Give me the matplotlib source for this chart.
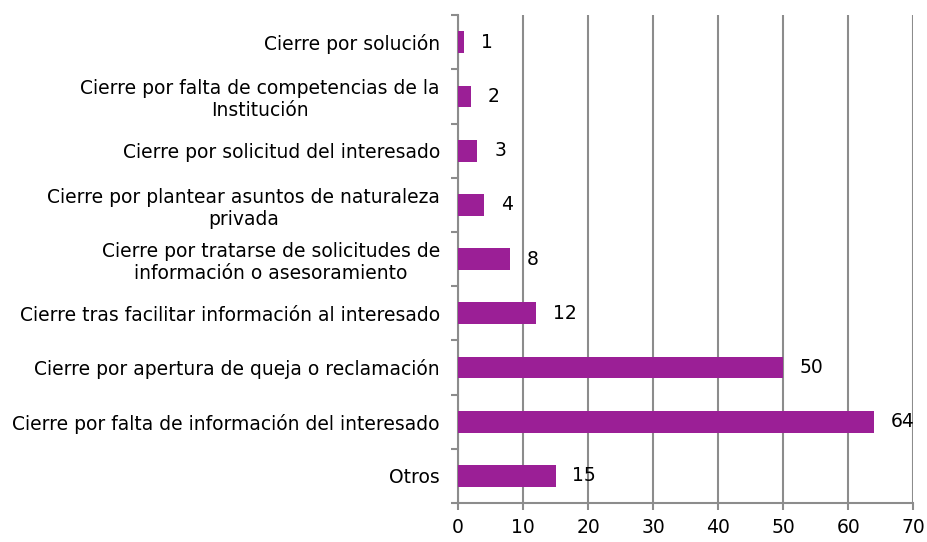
import numpy as np
import matplotlib.pyplot as plt

categories = [
    "Cierre por solución",
    "Cierre por falta de competencias de la\nInstitución",
    "Cierre por solicitud del interesado",
    "Cierre por plantear asuntos de naturaleza\nprivada",
    "Cierre por tratarse de solicitudes de\ninformación o asesoramiento",
    "Cierre tras facilitar información al interesado",
    "Cierre por apertura de queja o reclamación",
    "Cierre por falta de información del interesado",
    "Otros",
]
values = [1, 2, 3, 4, 8, 12, 50, 64, 15]
xticks = [0, 10, 20, 30, 40, 50, 60, 70]

bar_color = "#9B1F96"
grid_color = "#8C8C8C"
fs = 13.5

fig = plt.figure(figsize=(9.28, 5.42), dpi=100)
ax = fig.add_axes([0.4935, 0.072, 0.4905, 0.9])

y = np.arange(len(categories))
ax.barh(y, values, height=0.4, color=bar_color, zorder=3)

for yi, v in zip(y, values):
    ax.annotate(str(v), (v, yi), xytext=(12, 0), textcoords="offset points",
                va="center", ha="left", fontsize=fs, color="black")

ax.set_ylim(len(categories) - 0.5, -0.5)
ax.set_xlim(0, 70)
ax.set_xticks(xticks)
ax.set_xticklabels([str(t) for t in xticks], fontsize=fs)
ax.set_yticks(y)
ax.set_yticklabels(categories, fontsize=fs, ha="right", multialignment="center")
ax.tick_params(axis="y", length=0, pad=13)
ax.set_yticks(np.arange(len(categories) + 1) - 0.5, minor=True)
ax.tick_params(axis="y", which="minor", length=5, color=grid_color, width=1.5)
ax.tick_params(axis="x", length=5, color=grid_color, width=1.5, pad=6)

ax.grid(axis="x", color=grid_color, linewidth=1.5, zorder=0)
ax.set_axisbelow(True)
for s in ["top", "right"]:
    ax.spines[s].set_visible(False)
for s in ["left", "bottom"]:
    ax.spines[s].set_color(grid_color)
    ax.spines[s].set_linewidth(1.5)

fig.savefig("out.png", dpi=100)
